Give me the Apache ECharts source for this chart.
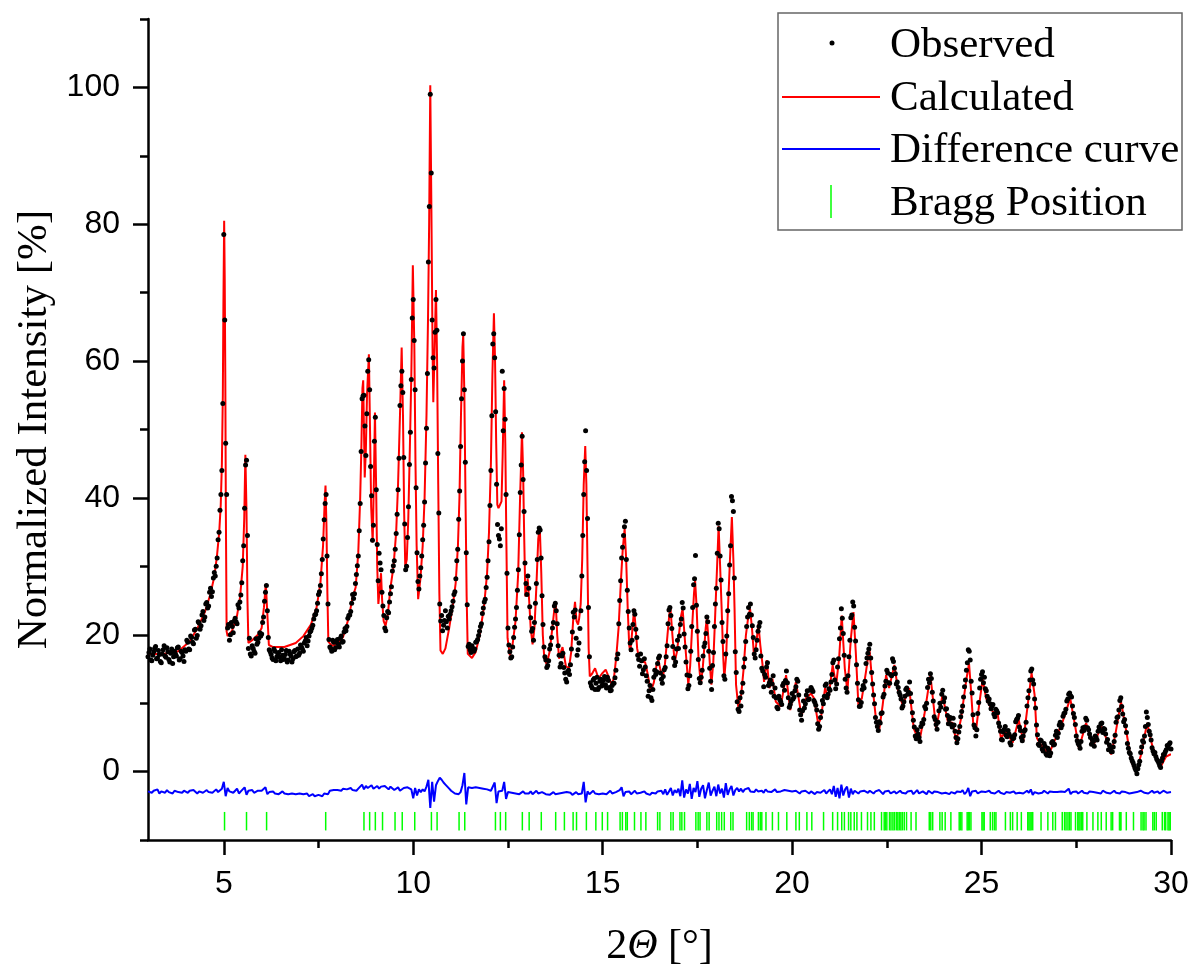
<!DOCTYPE html>
<html><head><meta charset="utf-8">
<script src="https://cdn.jsdelivr.net/npm/echarts@6/dist/echarts.min.js"></script>
<style>html,body{margin:0;padding:0;background:#fff}#c{width:1195px;height:973px}</style>
</head><body><div id="c"></div>
<script>
// ---- data ----
const X_START = 3, X_STEP = 0.05;   // observed & difference sampled every 0.05 deg from 3 to 30
// observed points at 3.00, 3.05, ... 30.00
const observed = [
16.8,17.9,16.2,17.5,18.3,16.6,17.1,15.9,17.8,16.9,18.1,16.4,17.3,15.8,17.6,16.9,18.2,16.5,17.4,16.1,
17.6,18.9,17.8,19.6,18.7,20.8,19.9,21.7,21.3,23.4,22.6,24.7,24.2,26.8,26.3,29.1,30.0,33.9,38.2,44.0,
78.5,48.0,21.0,19.2,21.8,20.3,22.4,21.6,23.9,25.8,30.8,38.5,45.5,18.0,17.2,18.4,17.6,19.4,18.9,20.3,
20.1,22.6,26.2,23.5,17.8,17.1,16.4,17.6,16.8,17.4,16.2,17.0,16.5,17.7,16.3,17.2,16.0,17.5,16.8,17.9,
17.3,18.2,17.6,19.1,18.4,19.8,20.6,21.4,22.9,23.5,25.9,27.2,31.0,36.8,40.5,24.5,18.2,17.6,18.9,18.1,
19.3,18.2,19.8,19.0,20.9,21.2,22.8,23.4,25.9,26.0,28.8,31.5,39.2,54.5,55.0,46.2,58.5,55.8,40.3,36.0,
51.8,33.2,31.9,29.5,24.2,21.0,22.5,23.2,26.0,29.3,30.8,34.8,41.2,53.5,58.5,45.9,29.5,34.2,44.9,57.3,
69.0,55.8,32.0,26.7,29.8,33.9,39.4,50.2,74.5,99.0,66.0,59.0,69.0,46.5,24.5,22.8,21.4,23.5,21.0,22.3,
23.5,24.9,26.3,30.8,36.9,47.5,60.0,55.8,32.0,18.3,17.8,18.4,17.6,18.9,19.3,20.5,21.6,23.9,25.2,28.4,
33.6,44.0,62.5,60.5,42.0,34.5,33.0,58.5,56.0,40.5,21.0,17.5,16.8,19.6,22.3,26.5,34.6,44.8,42.7,30.5,
25.9,26.8,22.5,20.9,21.8,27.5,35.0,35.3,25.7,18.2,16.3,15.5,17.9,19.6,21.8,24.6,21.6,17.0,15.8,17.3,
14.4,13.1,14.8,15.6,20.4,22.6,19.5,17.8,20.9,28.6,40.5,49.8,37.0,16.8,12.5,13.4,12.0,13.8,12.3,13.5,
12.8,13.9,12.2,13.3,11.8,12.6,12.9,14.8,17.2,25.0,31.2,34.5,36.6,26.5,21.0,17.8,21.5,23.0,19.6,16.4,
17.2,14.3,16.5,14.0,11.0,12.6,10.4,13.8,14.2,15.8,16.9,13.5,13.9,15.2,18.4,23.6,22.8,18.3,15.5,17.9,
18.0,21.5,24.7,20.1,16.0,12.1,14.0,21.2,27.3,31.6,20.5,13.6,13.8,16.9,18.8,22.6,17.6,13.2,15.5,21.2,
26.8,36.3,31.5,21.8,14.0,17.2,23.5,30.2,40.2,38.0,17.5,10.2,8.8,9.6,12.9,16.5,21.2,24.0,24.5,21.3,
17.2,17.8,20.5,21.8,15.1,12.4,13.8,15.9,13.0,11.6,14.0,12.2,9.4,11.0,10.2,12.6,11.9,14.7,10.8,9.8,
11.4,10.9,12.4,13.2,9.0,7.5,10.3,9.9,11.8,10.6,12.3,11.7,10.1,9.0,6.2,7.9,10.4,11.0,12.8,11.3,
11.9,14.2,16.3,12.1,15.3,19.4,23.8,20.2,13.5,11.6,16.8,22.5,24.8,21.1,15.6,10.5,9.6,12.0,12.2,15.8,
17.3,18.6,14.5,11.2,7.9,6.6,7.3,8.5,10.9,12.5,14.8,13.0,14.2,16.5,15.1,12.8,12.3,11.2,9.3,10.2,
12.0,11.3,13.1,10.2,7.5,5.2,6.1,5.0,6.6,7.0,9.5,10.0,13.5,14.3,11.6,8.0,6.9,7.2,10.0,11.3,
10.2,9.1,8.2,7.6,6.9,7.8,5.9,4.2,5.8,8.0,9.6,12.4,14.8,17.8,16.3,11.5,6.8,5.2,8.5,12.2,
14.2,13.0,12.1,11.0,10.6,9.2,9.8,8.0,8.9,7.1,5.9,4.6,6.2,5.3,6.0,4.2,5.1,4.9,7.3,7.8,
6.5,5.0,5.2,6.1,9.6,11.8,14.7,13.4,10.6,6.8,4.0,4.6,3.3,4.1,2.6,3.4,2.3,4.2,3.9,5.3,
5.0,6.8,6.4,8.1,8.6,10.3,11.3,11.1,9.6,7.9,5.2,4.1,3.4,5.9,6.0,7.8,6.4,5.5,4.0,4.4,
5.2,4.6,6.5,7.0,5.7,6.2,4.3,3.2,3.5,2.9,4.4,7.2,8.0,10.4,9.5,7.3,6.7,4.1,2.8,2.0,
1.3,0.5,-0.3,1.0,2.8,4.5,5.2,8.7,6.9,5.4,3.5,2.6,2.2,1.6,0.9,1.5,2.5,2.9,3.8,4.0,3.3
];
// observed points in between, at 3.025, 3.075, ... 29.975
const observedMid = [
17.4,16.3,17.0,18.0,16.5,17.7,16.1,17.2,18.4,16.7,17.5,16.0,17.9,16.8,17.2,18.1,16.3,17.6,16.9,17.8,
19.2,17.9,19.8,18.9,20.7,19.5,21.9,20.8,22.9,22.1,24.5,23.9,26.2,25.6,28.3,28.6,31.2,35.0,40.5,53.8,
66.0,40.5,21.5,20.0,21.2,22.0,21.9,24.4,24.8,27.6,33.0,44.8,34.5,19.5,16.9,18.0,17.3,18.6,19.5,19.8,
21.8,24.9,27.2,19.6,17.5,16.6,17.9,16.2,17.3,16.7,17.8,16.4,17.1,16.0,17.6,16.9,16.5,17.7,16.9,17.0,
18.5,17.9,18.8,19.6,19.1,20.4,21.0,22.3,23.0,24.6,26.3,28.9,34.0,39.2,31.5,19.3,18.0,19.2,17.8,18.9,
18.6,19.5,18.9,20.4,20.6,22.4,22.9,24.6,25.3,27.5,30.1,35.2,46.8,54.9,50.5,52.3,60.2,44.6,33.8,48.3,
41.2,27.9,30.5,26.2,22.8,20.6,23.4,24.8,27.0,30.1,32.5,37.6,45.8,56.4,55.4,36.2,30.0,38.7,49.6,66.3,
63.0,41.5,27.8,28.6,31.5,36.0,45.1,58.2,82.6,87.5,60.5,64.2,64.5,37.8,22.0,20.6,22.1,21.9,22.7,23.0,
24.1,25.9,28.2,32.5,41.0,54.5,64.0,45.2,24.4,18.6,17.4,18.0,17.9,19.0,19.9,21.2,23.1,24.8,26.9,30.8,
38.9,52.0,64.0,52.6,36.1,34.0,35.5,49.8,51.5,29.0,18.5,16.6,18.2,21.1,24.0,29.5,40.8,49.0,38.0,27.5,
28.6,24.1,20.5,19.2,24.6,31.0,35.6,31.2,21.5,16.8,15.2,16.2,18.5,21.0,24.2,23.5,18.4,15.3,16.9,15.2,
13.5,14.6,14.2,17.9,23.3,23.6,17.0,18.8,23.5,34.5,45.3,44.0,24.0,13.0,12.2,13.6,12.9,12.0,13.2,12.5,
13.4,12.7,13.8,12.3,11.9,12.9,13.7,16.5,21.6,27.9,32.8,35.8,31.0,23.4,18.8,19.2,23.5,20.8,17.0,15.4,
16.2,14.9,15.3,13.2,11.8,10.8,12.0,14.8,14.6,16.6,14.4,12.9,14.9,16.8,21.6,24.0,20.9,16.6,16.0,19.2,
19.8,22.3,23.9,18.2,14.1,12.6,17.6,24.0,28.2,24.3,16.4,13.0,14.8,18.3,20.2,21.9,15.1,12.0,17.4,24.5,
31.9,35.5,28.0,19.0,13.5,19.8,26.0,33.0,39.6,28.3,14.5,9.1,10.8,11.6,15.3,19.0,22.6,23.0,22.9,19.6,
16.6,19.2,21.2,16.9,14.7,14.2,15.3,12.6,13.4,12.8,11.0,10.8,9.2,10.5,9.8,12.9,13.3,13.0,9.4,10.3,
10.6,11.8,13.5,11.2,8.3,8.9,9.3,11.2,10.5,11.9,12.0,10.4,9.7,7.0,6.6,8.8,9.9,12.6,10.8,12.1,
13.1,15.9,13.4,12.8,16.5,21.0,22.4,17.0,12.2,14.0,19.2,22.9,24.2,19.1,12.9,9.5,10.1,12.6,13.2,16.6,
17.9,16.6,12.8,9.9,7.2,6.0,7.1,8.6,11.3,13.2,14.4,12.9,14.0,16.1,14.3,13.1,11.6,10.6,9.6,11.0,
12.2,11.6,11.4,8.6,6.5,4.8,5.5,4.4,7.1,7.6,9.2,12.3,13.0,13.6,10.3,7.6,6.2,8.9,9.4,11.9,
10.8,9.2,7.0,7.9,6.5,6.8,5.0,4.8,6.6,8.8,10.9,13.4,15.9,17.6,13.2,8.3,6.4,6.1,10.1,13.5,
14.6,13.8,11.8,10.3,9.9,9.6,8.4,9.1,8.6,6.6,4.7,5.8,6.6,5.1,5.5,3.9,4.8,5.4,7.6,8.2,
6.0,4.5,5.9,7.2,10.8,13.4,15.0,12.8,9.3,5.4,3.8,4.5,3.0,3.7,2.4,3.1,2.7,4.4,4.0,5.9,
5.6,7.2,6.8,8.5,9.1,10.6,11.5,10.9,8.5,6.9,4.5,3.9,4.4,6.4,6.5,7.5,6.1,5.0,4.6,3.7,
5.0,5.9,6.0,7.1,6.3,5.5,4.7,3.9,2.9,3.6,5.3,7.9,9.0,10.8,8.4,7.6,5.7,3.4,2.6,1.6,
0.9,0.2,0.4,1.5,3.6,4.3,6.6,7.9,5.9,4.6,3.0,2.8,1.8,1.3,0.6,2.0,2.5,3.2,3.5,4.2
];
const difference = [
-2.9,-2.7,-3.1,-2.8,-3.0,-2.6,-3.2,-2.9,-2.8,-3.1,-2.7,-3.0,-2.9,-3.2,-2.8,-2.6,-3.0,-2.9,-3.1,-2.8,
-2.9,-3.1,-2.8,-3.0,-2.7,-2.5,-3.2,-2.9,-2.8,-3.1,-2.9,-2.7,-3.0,-2.8,-3.1,-2.9,-2.6,-3.0,-2.8,-2.5,
-1.5,-3.6,-2.4,-2.9,-2.7,-3.1,-2.8,-2.5,-3.2,-2.9,-2.7,-2.3,-3.4,-2.8,-3.0,-2.7,-3.1,-2.9,-2.8,-3.0,
-2.8,-2.6,-2.3,-3.3,-3.0,-3.1,-2.9,-3.2,-3.0,-3.3,-3.1,-2.9,-3.2,-3.0,-3.3,-3.1,-3.2,-3.0,-3.3,-3.1,
-3.2,-3.4,-3.3,-3.5,-3.2,-3.6,-3.4,-3.3,-3.6,-3.5,-3.4,-3.3,-3.6,-3.2,-3.0,-3.3,-2.8,-2.6,-2.7,-2.5,
-2.7,-2.6,-2.8,-2.5,-2.7,-2.6,-2.8,-2.4,-2.7,-2.6,-2.8,-2.5,-2.2,-1.9,-2.6,-2.1,-2.4,-2.2,-2.0,-2.5,
-2.3,-2.1,-2.5,-2.2,-2.4,-2.1,-2.3,-2.6,-2.2,-2.4,-2.7,-2.5,-2.3,-2.8,-2.6,-2.4,-2.5,-2.3,-2.2,-2.6,
-3.9,-2.4,-3.5,-2.6,-3.0,-2.6,-2.9,-2.2,-1.2,-5.3,-1.5,-4.4,-2.0,-1.4,-0.9,-1.2,-1.6,-1.9,-2.1,-2.5,
-2.8,-3.0,-3.2,-3.4,-3.3,-3.0,-2.0,-0.2,-4.8,-2.3,-2.5,-2.4,-2.6,-2.3,-2.5,-2.4,-2.6,-2.5,-2.7,-2.6,
-2.6,-2.8,-2.7,-1.6,-4.6,-2.9,-3.1,-2.8,-1.5,-4.0,-3.0,-3.2,-3.1,-2.9,-3.2,-3.0,-3.3,-3.1,-2.9,-3.2,
-3.0,-3.2,-2.9,-3.3,-3.1,-2.8,-3.2,-3.4,-3.0,-3.2,-3.3,-3.1,-3.4,-3.2,-3.0,-3.3,-3.1,-3.2,-3.4,-3.1,
-3.3,-3.0,-3.2,-3.1,-3.4,-3.2,-3.0,-3.3,-3.1,-3.2,-1.5,-4.5,-2.9,-3.3,-3.1,-2.8,-3.2,-3.0,-3.3,-3.1,
-3.2,-3.0,-3.3,-3.1,-2.8,-3.2,-3.4,-3.0,-3.1,-2.7,-2.3,-3.6,-3.0,-3.2,-2.9,-3.3,-3.1,-2.8,-3.2,-3.0,
-3.1,-3.3,-2.9,-3.2,-3.0,-3.4,-3.1,-3.3,-3.2,-2.9,-3.0,-2.8,-3.3,-2.6,-3.4,-2.9,-2.4,-3.5,-2.7,-3.1,
-2.5,-3.6,-1.3,-3.8,-2.6,-3.2,-1.8,-4.0,-2.4,-3.0,-1.4,-3.7,-2.5,-2.0,-3.9,-2.7,-1.6,-3.5,-2.8,-2.2,
-3.6,-1.9,-3.2,-2.5,-3.8,-1.7,-3.4,-2.6,-2.1,-3.5,-2.7,-2.4,-2.9,-2.5,-3.0,-2.6,-2.8,-2.4,-2.9,-2.7,
-3.0,-2.6,-2.9,-2.7,-2.8,-3.1,-2.6,-2.9,-2.7,-3.0,-2.8,-2.6,-3.0,-2.8,-2.9,-3.1,-2.7,-2.9,-2.8,-3.0,
-2.9,-3.1,-2.8,-3.0,-3.2,-2.9,-3.1,-2.8,-3.0,-3.2,-2.9,-3.1,-3.3,-3.0,-2.8,-3.1,-3.0,-2.7,-3.2,-2.9,
-2.6,-3.3,-2.1,-3.7,-2.4,-3.9,-1.9,-3.5,-2.6,-2.2,-3.8,-2.5,-3.3,-2.8,-3.0,-3.2,-2.9,-3.1,-2.8,-3.0,
-3.1,-2.8,-3.0,-3.2,-2.9,-3.1,-2.7,-3.0,-3.3,-2.9,-3.1,-2.8,-3.2,-3.0,-2.9,-3.2,-3.0,-2.8,-3.1,-3.0,
-3.2,-2.9,-3.1,-2.8,-3.3,-3.0,-2.7,-3.2,-3.0,-2.9,-3.1,-3.3,-2.8,-3.0,-3.2,-2.9,-3.1,-3.0,-2.8,-3.2,
-3.0,-3.1,-2.9,-3.3,-3.0,-2.8,-3.2,-2.9,-3.1,-3.0,-2.7,-3.3,-3.0,-2.4,-3.6,-2.9,-3.1,-2.8,-3.2,-3.0,
-2.9,-3.1,-3.0,-3.2,-2.8,-3.1,-2.9,-3.2,-3.0,-2.8,-3.1,-2.9,-3.3,-3.0,-2.8,-3.1,-3.0,-2.9,-3.2,-3.0,
-3.1,-2.9,-3.2,-3.0,-2.8,-3.1,-2.6,-3.4,-3.0,-2.9,-3.2,-3.0,-3.1,-2.8,-3.0,-3.2,-2.9,-3.1,-3.0,-2.8,
-3.0,-3.2,-2.9,-3.1,-3.0,-2.8,-2.5,-3.3,-3.0,-3.1,-2.9,-3.2,-3.0,-2.8,-3.1,-3.0,-3.2,-2.9,-3.1,-3.0,
-2.9,-3.1,-3.0,-3.2,-2.8,-3.0,-3.1,-2.9,-3.2,-3.0,-2.8,-3.1,-3.0,-3.2,-2.9,-3.1,-3.0,-2.8,-3.2,-3.0,
-3.1,-2.9,-3.0,-3.2,-2.8,-3.0,-3.1,-2.9,-3.2,-3.0,-2.8,-3.1,-3.0,-2.9,-3.2,-3.0,-2.8,-2.9,-3.1,-3.0,-3.0
];
const calculated = [
[3.00,17.2],[3.40,17.2],[3.80,17.6],[4.10,19.0],[4.30,20.9],[4.50,23.3],[4.65,26.0],[4.75,28.5],[4.82,31.5],[4.88,35.0],[4.92,39.0],[4.95,45.0],[4.975,55.0],[4.99,68.0],[5.01,80.5],[5.025,72.0],[5.04,58.0],[5.055,38.0],[5.075,20.5],[5.10,19.8],
[5.22,20.6],[5.35,22.8],[5.43,25.5],[5.50,30.0],[5.54,37.0],[5.57,46.3],[5.60,38.0],[5.625,25.0],[5.65,18.8],[5.75,19.2],[5.90,20.0],[6.00,21.0],[6.06,24.0],[6.11,27.4],[6.15,23.0],[6.19,18.5],[6.30,18.2],[6.60,18.2],[6.90,18.8],[7.10,19.8],
[7.30,21.5],[7.45,24.0],[7.55,27.5],[7.62,33.0],[7.66,39.0],[7.685,41.8],[7.71,36.0],[7.735,26.0],[7.76,19.0],[7.85,18.4],[8.00,18.6],[8.15,19.7],[8.30,22.5],[8.40,25.5],[8.48,26.9],[8.55,32.0],[8.60,40.0],[8.63,47.0],[8.66,56.0],[8.68,57.2],
[8.70,50.0],[8.72,43.0],[8.75,47.0],[8.78,55.0],[8.83,61.0],[8.86,50.0],[8.89,38.7],[8.93,33.5],[8.96,42.0],[8.99,52.5],[9.02,42.0],[9.05,30.0],[9.08,24.5],[9.12,27.0],[9.15,29.0],[9.18,25.0],[9.22,22.0],[9.27,21.3],[9.33,23.0],[9.40,26.9],
[9.48,30.0],[9.55,35.0],[9.60,42.0],[9.65,52.0],[9.695,62.0],[9.73,52.0],[9.76,38.0],[9.79,30.0],[9.83,31.0],[9.87,37.0],[9.91,47.0],[9.95,58.0],[9.99,74.0],[10.03,62.0],[10.06,45.0],[10.09,33.0],[10.13,25.2],[10.19,28.2],[10.25,33.0],[10.30,40.0],
[10.35,52.0],[10.39,66.0],[10.42,80.0],[10.45,100.3],[10.48,82.0],[10.51,62.0],[10.53,54.0],[10.565,62.0],[10.60,70.4],[10.63,60.0],[10.66,42.0],[10.69,26.0],[10.72,17.7],[10.78,17.2],[10.85,18.0],[10.95,21.0],[11.05,24.5],[11.12,27.5],[11.18,33.0],[11.22,40.0],
[11.26,52.0],[11.30,62.0],[11.32,63.8],[11.35,55.0],[11.38,40.0],[11.41,25.6],[11.44,17.2],[11.55,16.6],[11.65,17.5],[11.75,19.8],[11.87,24.2],[11.95,29.0],[12.00,35.0],[12.05,45.0],[12.09,58.0],[12.13,67.0],[12.16,60.0],[12.19,48.0],[12.22,39.0],[12.25,38.5],
[12.29,39.0],[12.33,39.5],[12.36,46.0],[12.40,57.2],[12.43,48.0],[12.46,33.0],[12.49,19.5],[12.55,17.0],[12.62,18.5],[12.70,22.0],[12.77,28.9],[12.82,40.0],[12.87,49.6],[12.90,44.0],[12.93,34.0],[12.96,25.6],[13.00,27.0],[13.02,28.2],[13.06,25.0],[13.10,21.0],
[13.15,18.6],[13.20,21.0],[13.25,27.0],[13.30,34.0],[13.34,35.8],[13.38,29.0],[13.42,20.0],[13.46,16.5],[13.52,15.7],[13.60,17.5],[13.67,20.9],[13.73,24.0],[13.76,24.8],[13.80,20.0],[13.85,16.5],[13.90,17.5],[13.94,18.2],[13.98,17.0],[14.03,15.4],[14.11,15.1],
[14.17,17.5],[14.22,22.0],[14.27,24.8],[14.31,22.0],[14.35,21.5],[14.38,22.4],[14.42,24.5],[14.46,31.0],[14.50,42.0],[14.54,47.6],[14.57,42.0],[14.60,30.0],[14.63,18.0],[14.66,13.9],[14.72,14.3],[14.80,15.1],[14.89,13.6],[14.98,14.3],[15.08,14.9],[15.16,13.8],
[15.24,12.7],[15.30,13.8],[15.36,16.8],[15.42,21.0],[15.48,27.7],[15.53,32.5],[15.58,35.5],[15.62,31.0],[15.66,24.0],[15.70,18.5],[15.73,17.5],[15.78,20.5],[15.83,23.8],[15.87,21.0],[15.91,18.0],[15.96,16.5],[16.01,16.0],[16.06,15.8],[16.12,16.0],[16.18,14.5],
[16.27,11.7],[16.35,13.0],[16.42,15.5],[16.47,16.3],[16.52,15.0],[16.58,13.6],[16.64,15.5],[16.71,19.9],[16.76,23.0],[16.79,23.8],[16.84,20.0],[16.90,16.0],[16.96,17.5],[17.02,20.4],[17.07,22.8],[17.11,23.8],[17.16,20.0],[17.20,17.0],[17.26,12.7],[17.31,15.5],
[17.36,21.0],[17.41,26.0],[17.44,27.9],[17.48,24.0],[17.53,16.5],[17.59,12.7],[17.64,15.0],[17.68,18.0],[17.72,21.0],[17.75,22.4],[17.79,19.5],[17.83,15.5],[17.87,12.7],[17.92,16.0],[17.97,22.9],[18.02,30.0],[18.06,35.9],[18.10,30.0],[18.14,23.8],[18.18,17.0],
[18.21,13.6],[18.26,17.0],[18.30,22.9],[18.36,31.0],[18.41,37.2],[18.45,31.0],[18.48,24.0],[18.52,12.7],[18.58,9.4],[18.65,10.9],[18.72,15.0],[18.78,19.9],[18.84,22.5],[18.89,23.8],[18.94,21.0],[19.00,16.5],[19.05,18.5],[19.11,21.6],[19.16,18.5],[19.22,15.6],
[19.26,13.1],[19.33,16.3],[19.40,12.2],[19.48,13.6],[19.57,10.2],[19.70,9.5],[19.84,14.1],[19.95,9.0],[20.10,13.1],[20.25,8.1],[20.36,10.7],[20.50,11.4],[20.58,10.7],[20.69,6.9],[20.76,7.8],[20.87,12.2],[20.96,10.7],[21.07,15.6],[21.16,12.6],[21.24,16.5],
[21.31,22.8],[21.39,15.1],[21.46,11.7],[21.55,19.4],[21.62,23.3],[21.68,17.5],[21.75,9.7],[21.84,10.7],[21.95,14.6],[22.04,18.0],[22.12,12.6],[22.21,7.8],[22.30,6.1],[22.39,9.7],[22.48,14.1],[22.56,12.2],[22.70,15.6],[22.80,11.7],[22.92,9.7],[23.09,12.2],
[23.21,6.3],[23.36,4.4],[23.49,8.3],[23.65,14.1],[23.80,6.3],[23.97,11.2],[24.11,7.3],[24.24,7.1],[24.33,4.4],[24.46,7.8],[24.60,13.5],[24.67,15.8],[24.72,12.0],[24.78,7.0],[24.85,5.9],[24.93,9.5],[25.03,13.5],[25.12,10.7],[25.29,8.8],[25.43,8.3],
[25.51,4.9],[25.65,5.9],[25.82,4.2],[25.98,7.6],[26.10,4.4],[26.22,9.8],[26.32,14.4],[26.40,11.2],[26.46,4.9],[26.57,3.9],[26.77,2.5],[26.92,4.4],[27.14,7.3],[27.34,10.7],[27.45,7.3],[27.57,3.4],[27.76,7.1],[27.94,3.7],[28.16,6.6],[28.29,4.9],
[28.42,2.5],[28.53,5.4],[28.68,10.2],[28.82,5.9],[28.95,1.5],[29.08,-0.2],[29.21,2.5],[29.37,7.1],[29.50,3.9],[29.71,0.5],[29.87,2.2],[29.98,2.5],[30.00,2.5]
];
const braggPositions = [
5.02,5.60,6.13,7.69,8.70,8.85,9.00,9.19,9.52,9.71,10.04,10.48,10.63,11.21,11.36,12.17,12.30,12.44,12.88,13.06,
13.38,13.76,13.99,14.22,14.31,14.57,14.82,14.99,15.13,15.46,15.52,15.61,15.65,15.84,16.01,16.14,16.45,16.51,16.80,16.86,
17.04,17.09,17.16,17.46,17.52,17.57,17.75,17.81,18.01,18.07,18.14,18.21,18.38,18.44,18.80,18.87,18.93,18.97,19.11,19.16,
19.20,19.31,19.48,19.64,19.86,20.10,20.19,20.39,20.52,20.83,21.07,21.20,21.31,21.38,21.49,21.55,21.64,21.71,21.83,21.99,
22.08,22.17,22.36,22.43,22.46,22.50,22.57,22.61,22.66,22.70,22.75,22.79,22.83,22.87,22.91,22.96,23.02,23.14,23.27,23.62,
23.66,23.71,23.90,23.96,24.04,24.19,24.41,24.44,24.48,24.62,24.65,24.68,24.72,25.01,25.04,25.07,25.23,25.29,25.34,25.38,
25.63,25.76,25.82,25.94,26.05,26.22,26.25,26.28,26.31,26.35,26.57,26.75,26.88,26.95,27.13,27.19,27.23,27.28,27.32,27.36,
27.48,27.54,27.57,27.60,27.64,27.67,27.78,27.94,28.07,28.16,28.29,28.42,28.46,28.64,28.66,28.68,28.82,29.01,29.21,29.26,
29.29,29.34,29.52,29.56,29.61,29.77,29.83,29.86,29.92,29.95,29.98
];
const BRAGG_TOP = -5.9, BRAGG_BOTTOM = -8.6;
const xMajorTicks = [5,10,15,20,25,30];
const xMinorTicks = [7.5,12.5,17.5,22.5,27.5];
const yMajorTicks = [0,20,40,60,80,100];
const yMinorTicks = [-10,10,30,50,70,90,110];

// ---- build series data ----
const obsData = observed.map((v,i)=>[+(X_START + i*X_STEP).toFixed(3), v])
  .concat(observedMid.map((v,i)=>[+(X_START + X_STEP/2 + i*X_STEP).toFixed(3), v]));
const diffData = difference.map((v,i)=>[+(X_START + i*X_STEP).toFixed(2), v]);
const braggData = braggPositions.map(x=>[x, (BRAGG_TOP+BRAGG_BOTTOM)/2]);

const SANS = '"Liberation Sans", Arial, sans-serif';
const SERIF = '"Liberation Serif", "Times New Roman", serif';
const AX = {color:'#000', width:2.5};

const chart = echarts.init(document.getElementById('c'), null, {renderer:'canvas'});
chart.setOption({
  animation:false,
  backgroundColor:'#fff',
  grid:{left:148, right:24, top:19, bottom:131, containLabel:false},
  xAxis:[{
    type:'value', min:3, max:30, position:'bottom',
    axisLine:{show:true, onZero:false, lineStyle:AX},
    axisTick:{show:true, customValues:xMajorTicks, length:15, lineStyle:AX},
    axisLabel:{customValues:xMajorTicks, fontSize:32, fontFamily:SANS, color:'#000', margin:28},
    splitLine:{show:false},
    name:'{a|2}{b|Θ}{a| [°]}', nameLocation:'middle', nameGap:86,
    nameTextStyle:{rich:{a:{fontFamily:SERIF, fontSize:42, color:'#000'}, b:{fontFamily:SERIF, fontSize:42, fontStyle:'italic', color:'#000'}}}
  },{
    type:'value', min:3, max:30, position:'bottom',
    axisLine:{show:false, onZero:false},
    axisTick:{show:true, customValues:xMinorTicks, length:8, lineStyle:AX},
    axisLabel:{show:false}, splitLine:{show:false}
  }],
  yAxis:[{
    type:'value', min:-10, max:110, position:'left',
    axisLine:{show:true, onZero:false, lineStyle:AX},
    axisTick:{show:true, customValues:yMajorTicks, length:15, lineStyle:AX},
    axisLabel:{customValues:yMajorTicks, fontSize:32, fontFamily:SANS, color:'#000', margin:28},
    splitLine:{show:false},
    name:'Normalized Intensity [%]', nameLocation:'middle', nameGap:92, nameRotate:90,
    nameTextStyle:{fontFamily:SERIF, fontSize:43, color:'#000'}
  },{
    type:'value', min:-10, max:110, position:'left',
    axisLine:{show:false, onZero:false},
    axisTick:{show:true, customValues:yMinorTicks, length:8, lineStyle:AX},
    axisLabel:{show:false}, splitLine:{show:false}
  }],
  series:[
    {name:'Calculated', type:'line', data:calculated, showSymbol:false, symbol:'none',
     lineStyle:{color:'#ff0000', width:2}, z:3, clip:true},
    {name:'Observed', type:'scatter', data:obsData, symbol:'circle', symbolSize:5,
     itemStyle:{color:'#000', opacity:1}, z:4},
    {name:'Difference curve', type:'line', data:diffData, showSymbol:false, symbol:'none',
     lineStyle:{color:'#0000ff', width:2}, z:3},
    {name:'Bragg Position', type:'custom', data:braggData, encode:{x:0,y:1}, z:2,
     renderItem:function(params, api){
       const x = api.value(0);
       const p1 = api.coord([x, BRAGG_TOP]);
       const p2 = api.coord([x, BRAGG_BOTTOM]);
       return {type:'line', shape:{x1:p1[0], y1:p1[1], x2:p2[0], y2:p2[1]},
               style:{stroke:'#00ff00', lineWidth:1.5}};
     }}
  ],
  graphic:[
    {type:'rect', shape:{x:778, y:13, width:404, height:217}, style:{fill:'#fff', stroke:'#666', lineWidth:1.5}, z:100},
    {type:'circle', shape:{cx:832, cy:43, r:2.5}, style:{fill:'#000'}, z:101},
    {type:'line', shape:{x1:782, y1:97, x2:880, y2:97}, style:{stroke:'#ff0000', lineWidth:2}, z:101},
    {type:'line', shape:{x1:782, y1:149, x2:880, y2:149}, style:{stroke:'#0000ff', lineWidth:2}, z:101},
    {type:'line', shape:{x1:831, y1:185, x2:831, y2:218}, style:{stroke:'#00ff00', lineWidth:1.5}, z:101},
    {type:'text', x:890, y:46, z:101, style:{text:'Observed', fontFamily:SERIF, fontSize:43, fill:'#000', verticalAlign:'middle'}},
    {type:'text', x:890, y:99, z:101, style:{text:'Calculated', fontFamily:SERIF, fontSize:43, fill:'#000', verticalAlign:'middle'}},
    {type:'text', x:890, y:151, z:101, style:{text:'Difference curve', fontFamily:SERIF, fontSize:43, fill:'#000', verticalAlign:'middle'}},
    {type:'text', x:890, y:204, z:101, style:{text:'Bragg Position', fontFamily:SERIF, fontSize:43, fill:'#000', verticalAlign:'middle'}}
  ]
});
</script>
</body></html>
